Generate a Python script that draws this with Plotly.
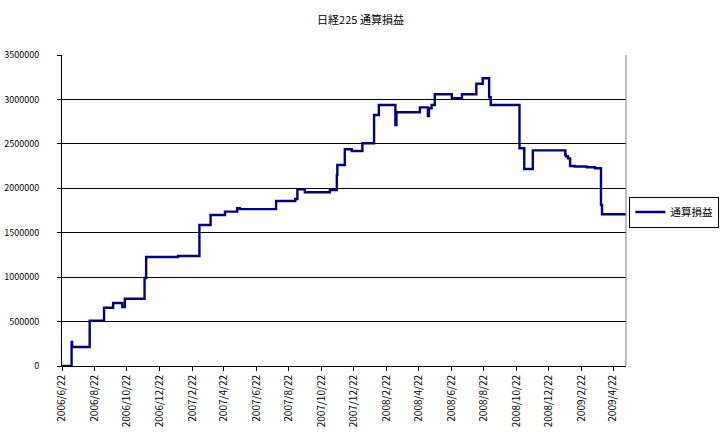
import plotly.graph_objects as go

# --- data ---
dates = [
    "2006-06-22", "2006-07-10", "2006-07-11", "2006-08-13", "2006-09-09",
    "2006-09-26", "2006-10-13", "2006-10-18", "2006-11-24", "2006-11-27",
    "2007-01-26", "2007-03-07", "2007-03-28", "2007-04-24", "2007-05-17",
    "2007-05-22", "2007-07-29", "2007-09-03", "2007-09-07", "2007-09-21",
    "2007-11-07", "2007-11-20", "2007-11-21", "2007-12-05", "2007-12-18",
    "2008-01-07", "2008-01-29", "2008-02-07", "2008-03-09", "2008-03-11",
    "2008-04-24", "2008-05-09", "2008-05-11", "2008-05-16", "2008-05-22",
    "2008-06-23", "2008-07-12", "2008-08-08", "2008-08-20", "2008-09-01",
    "2008-09-04", "2008-10-28", "2008-11-06", "2008-11-22", "2009-01-22",
    "2009-01-23", "2009-01-27", "2009-01-31", "2009-02-09", "2009-03-03",
    "2009-03-19", "2009-03-30", "2009-04-01", "2009-05-16",
]
cumulative_pl = [
    0, 270000, 214000, 510000, 656000,
    709000, 664000, 757000, 990000, 1227000,
    1238000, 1587000, 1700000, 1737000, 1775000,
    1765000, 1857000, 1879000, 1988000, 1955000,
    1981000, 2150000, 2262000, 2439000, 2420000,
    2506000, 2825000, 2937000, 2712000, 2855000,
    2911000, 2813000, 2900000, 2937000, 3058000,
    3013000, 3058000, 3176000, 3238000, 3024000,
    2937000, 2450000, 2217000, 2427000, 2380000,
    2360000, 2337000, 2251000, 2245000, 2236000,
    2226000, 1812000, 1707000, 1707000,
]

tick_dates = [
    "2006-06-22", "2006-08-22", "2006-10-22", "2006-12-22",
    "2007-02-22", "2007-04-22", "2007-06-22", "2007-08-22",
    "2007-10-22", "2007-12-22", "2008-02-22", "2008-04-22",
    "2008-06-22", "2008-08-22", "2008-10-22", "2008-12-22",
    "2009-02-22", "2009-04-22",
]
tick_labels = [
    "2006/6/22", "2006/8/22", "2006/10/22", "2006/12/22",
    "2007/2/22", "2007/4/22", "2007/6/22", "2007/8/22",
    "2007/10/22", "2007/12/22", "2008/2/22", "2008/4/22",
    "2008/6/22", "2008/8/22", "2008/10/22", "2008/12/22",
    "2009/2/22", "2009/4/22",
]

series_name = "通算損益"
title_text = "日経225 通算損益"

FONT = "Noto Sans CJK JP"

fig = go.Figure()
fig.add_trace(go.Scatter(
    x=dates, y=cumulative_pl, mode="lines", name=series_name,
    line=dict(color="#000080", width=2.4, shape="hv"),
))

fig.update_layout(
    width=721, height=444,
    paper_bgcolor="white", plot_bgcolor="white",
    margin=dict(l=62, r=95, t=55, b=78, autoexpand=False),
    title=dict(text=title_text, x=0.5, xanchor="center", y=0.955, yanchor="middle",
               font=dict(family=FONT, size=11, color="black")),
    font=dict(family=FONT, size=10, color="black"),
    showlegend=True,
    legend=dict(x=1.006, y=0.545, xanchor="left", yanchor="top",
                bordercolor="black", borderwidth=1, bgcolor="white",
                font=dict(family=FONT, size=10.5, color="black"),
                tracegroupgap=0),
)

fig.update_xaxes(
    type="date", range=["2006-06-22", "2009-05-16"],
    tickmode="array", tickvals=tick_dates, ticktext=tick_labels,
    tickangle=-90, ticks="outside", ticklen=4, tickcolor="black",
    showline=True, linecolor="black", linewidth=1,
    showgrid=False, zeroline=False,
    tickfont=dict(family=FONT, size=10, color="black"),
)
fig.update_yaxes(
    range=[0, 3500000], dtick=500000, tick0=0, tickformat="d",
    ticks="outside", ticklen=4, tickcolor="black",
    showline=True, linecolor="black", linewidth=1,
    showgrid=True, gridcolor="black", gridwidth=1, zeroline=False,
    ticklabelstandoff=16,
    tickfont=dict(family=FONT, size=9, color="black"),
)

# grey right border of the plot area
fig.add_shape(type="line", xref="paper", yref="paper", x0=1, x1=1, y0=0, y1=1,
              line=dict(color="#808080", width=1))

fig.write_html("out.html", config={"displayModeBar": False},
               post_script="document.body.style.margin='0';")
